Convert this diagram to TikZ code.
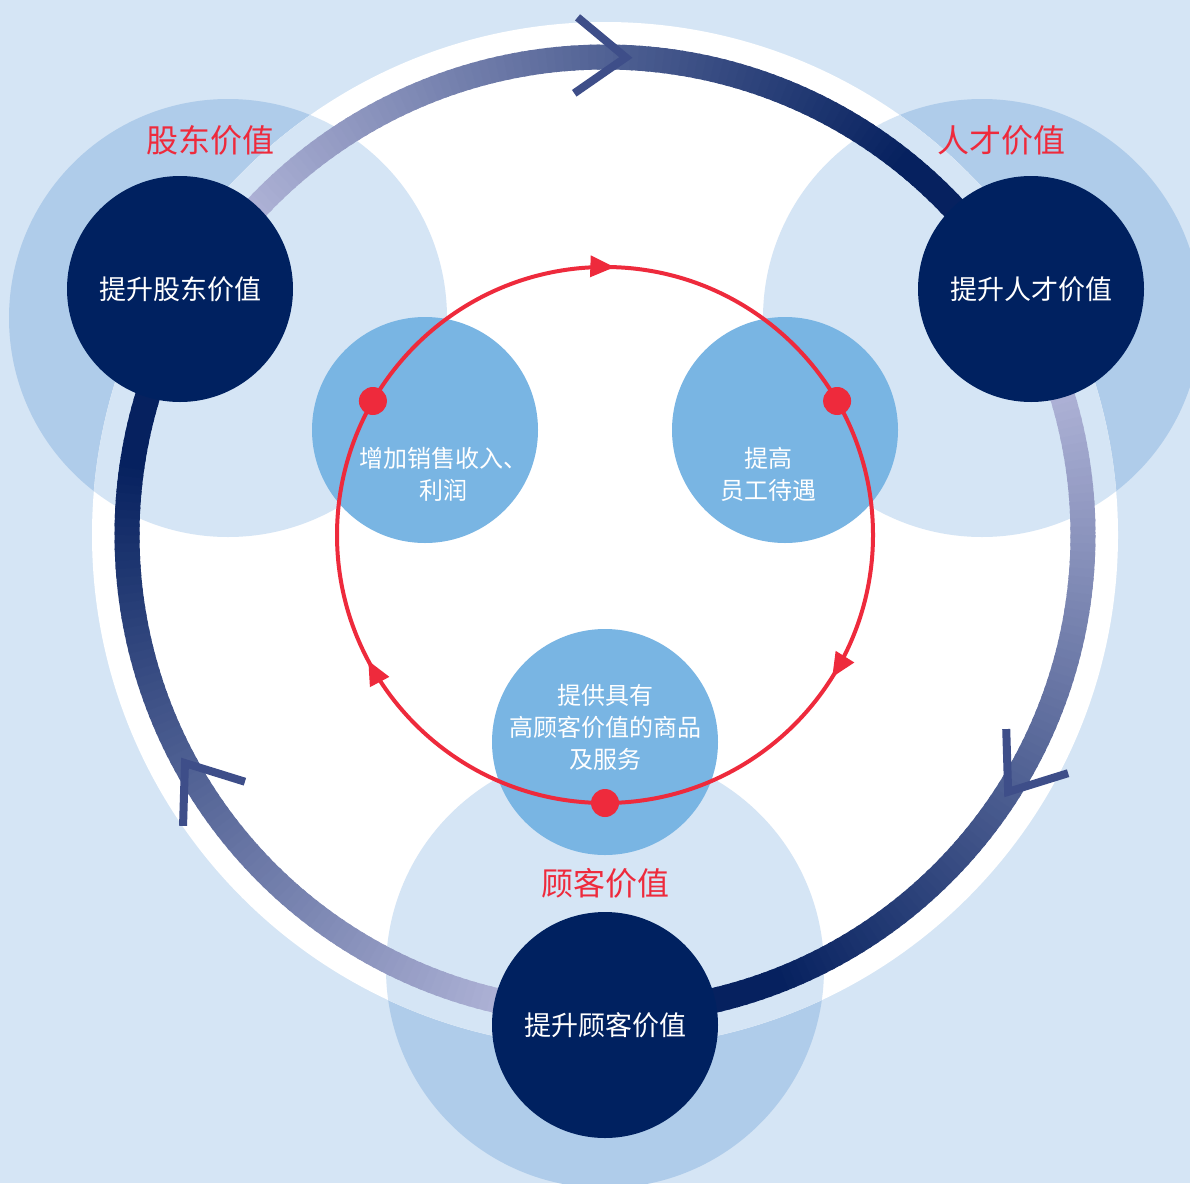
\documentclass[tikz,border=0pt]{standalone}
\usepackage{fontspec}
\newfontfamily\cjk{Noto Sans CJK SC}
\usetikzlibrary{calc}
\definecolor{bgblue}{HTML}{D5E5F5}
\definecolor{bigblue}{HTML}{AFCCEA}
\definecolor{midblue}{HTML}{79B5E3}
\definecolor{navy}{HTML}{002160}
\definecolor{ringlight}{HTML}{AEB2D6}
\definecolor{ringdark}{HTML}{06215F}
\definecolor{chev}{HTML}{3E4E89}
\definecolor{redc}{HTML}{EE2A3C}
\begin{document}
\begin{tikzpicture}[x=1pt,y=1pt,
  darkcirc/.style={circle,fill=navy,minimum size=226pt,inner sep=0pt,text=white,font=\cjk\fontsize{27}{30}\selectfont},
  midcirc/.style={circle,fill=midblue,minimum size=226pt,inner sep=0pt},
  midtext/.style={text=white,align=center,font=\cjk\fontsize{24}{32}\selectfont},
  redlabel/.style={text=redc,font=\cjk\fontsize{32}{36}\selectfont},
  reddot/.style={circle,fill=redc,minimum size=28pt,inner sep=0pt},
  chevline/.style={draw=chev,line width=8pt,line join=miter},
  ringseg/.style={line width=25pt},
]
\useasboundingbox (0,0) rectangle (1190,-1183);
\clip (0,0) rectangle (1190,-1183);
\fill[bgblue] (0,0) rectangle (1190,-1183);
\coordinate (c) at (605,-535);
% large soft circles
\fill[bigblue] (228,-318) circle[radius=219pt];
\fill[bigblue] (982,-318) circle[radius=219pt];
\fill[bigblue] (605,-969) circle[radius=219pt];
\fill[white] (c) circle[radius=513pt];
\begin{scope}
  \clip (c) circle[radius=513pt];
  \fill[bgblue] (228,-318) circle[radius=219pt];
  \fill[bgblue] (982,-318) circle[radius=219pt];
  \fill[bgblue] (605,-969) circle[radius=219pt];
\end{scope}
% gradient ring
\foreach \s in {150,30,-90}{
  \foreach \i in {0,...,119}{
    \pgfmathsetmacro\pc{max(0,min(100,(\i-12)*100/86))}
    \pgfmathsetmacro\st{\s-\i}
    \pgfmathsetmacro\en{\s-\i-1.4}
    \draw[ringseg,color=ringdark!\pc!ringlight] ($(c)+(\st:478)$) arc[start angle=\st,end angle=\en,radius=478pt];
  }
}
% chevrons
\foreach \a/\o in {87.5/0,-32.5/-3,208.5/7}{
  \draw[chevline,shift={($(c)+(\a:478)$)},rotate=\a-90+\o] (-50,38) -- (0,0) -- (-50,-38);
}
% dark circles
\node[darkcirc] (sh) at (180,-289) {提升股东价值};
\node[darkcirc] (rc) at (1031,-289) {提升人才价值};
\node[darkcirc] (gk) at (605,-1025) {提升顾客价值};
% red labels
\node[redlabel] (lsh) at (210,-140) {股东价值};
\node[redlabel] (lrc) at (1001,-140) {人才价值};
\node[redlabel] (lgk) at (605,-883) {顾客价值};
% medium circles
\node[midcirc] (m1) at (425,-430) {};
\node[midcirc] (m2) at (785,-430) {};
\node[midcirc] (m3) at (605,-742) {};
% red cycle
\draw[redc,line width=4pt] (c) circle[radius=268pt];
\foreach \a in {88,-32,208}{
  \fill[redc,shift={($(c)+(\a:268)$)},rotate=\a-90] (0,0) -- (-24,11) -- (-24,-11) -- cycle;
}
\node[reddot] (d1) at ($(c)+(150:268)$) {};
\node[reddot] (d2) at ($(c)+(30:268)$) {};
\node[reddot] (d3) at ($(c)+(-90:268)$) {};
% texts in medium circles
\node[midtext] (t1) at (443,-474) {增加销售收入、\\利润};
\node[midtext] (t2) at (768,-474) {提高\\员工待遇};
\node[midtext] (t3) at (605,-727) {提供具有\\高顾客价值的商品\\及服务};
\end{tikzpicture}
\end{document}
